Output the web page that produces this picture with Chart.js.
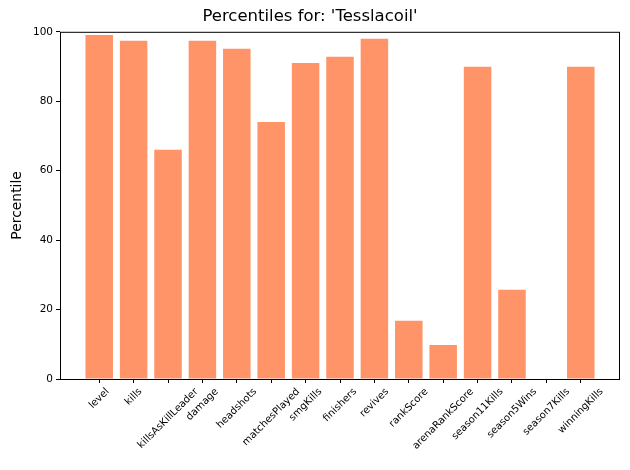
<!DOCTYPE html>
<html lang="en">
<head>
    <meta charset="UTF-8">
    <title>Percentiles for: 'Tesslacoil'</title>
    <script src="https://cdn.jsdelivr.net/npm/chart.js@4.4.1/dist/chart.umd.min.js"></script>
    <style>
        body {
            margin: 0;
            background-color: #fff;
        }
        #wrap {
            width: 630px;
            height: 470px;
        }
    </style>
</head>
<body>
    <div id="wrap"><canvas id="percentileChart"></canvas></div>

    <script>
        const categories = ['level', 'kills', 'killsAsKillLeader', 'damage', 'headshots', 'matchesPlayed',
            'smgKills', 'finishers', 'revives', 'rankScore', 'arenaRankScore', 'season11Kills',
            'season5Wins', 'season7Kills', 'winningKills'];
        const percentiles = [99.1, 97.4, 66, 97.4, 95.1, 74, 91, 92.8, 98, 16.8, 9.8, 89.9, 25.7, 0, 89.9];
        const yTicks = [0, 20, 40, 60, 80, 100];

        const fontFamily = "'DejaVu Sans', sans-serif";
        const barColor = '#ff9468';

        // matplotlib-style rotated labels, centred under each tick, plus the full axes frame
        const frameAndLabels = {
            id: 'frameAndLabels',
            afterDraw(chart) {
                const ctx = chart.ctx;
                const area = chart.chartArea;
                const xScale = chart.scales.x;
                const size = 10;
                ctx.save();
                ctx.strokeStyle = '#000';
                ctx.lineWidth = 1;
                ctx.strokeRect(area.left + 0.5, area.top + 0.5, area.right - area.left - 1, area.bottom - area.top);
                ctx.font = size + 'px ' + fontFamily;
                ctx.fillStyle = '#000';
                ctx.textAlign = 'center';
                ctx.textBaseline = 'middle';
                categories.forEach((label, i) => {
                    const w = ctx.measureText(label).width;
                    const x = xScale.getPixelForValue(i);
                    const y = area.bottom + 7 + (w + size * 1.15) * Math.SQRT1_2 / 2;
                    ctx.save();
                    ctx.translate(x, y);
                    ctx.rotate(-Math.PI / 4);
                    ctx.fillText(label, 0, 0);
                    ctx.restore();
                });
                ctx.restore();
            }
        };

        const ctx = document.getElementById('percentileChart').getContext('2d');
        new Chart(ctx, {
            type: 'bar',
            data: {
                datasets: [{
                    data: percentiles.map((v, i) => ({ x: i, y: v })),
                    backgroundColor: barColor,
                    borderWidth: 0,
                    barPercentage: 0.8,
                    categoryPercentage: 1
                }]
            },
            options: {
                responsive: true,
                maintainAspectRatio: false,
                animation: false,
                layout: { padding: { left: 0, right: 10, top: 0, bottom: 0 } },
                plugins: {
                    legend: { display: false },
                    tooltip: { enabled: false },
                    title: {
                        display: true,
                        text: "Percentiles for: 'Tesslacoil'",
                        color: '#000',
                        font: { family: fontFamily, size: 16.5, weight: 'normal' },
                        padding: { top: 7, bottom: 5 }
                    }
                },
                scales: {
                    x: {
                        type: 'linear',
                        offset: false,
                        min: -1.14,
                        max: 15.14,
                        afterBuildTicks: scale => {
                            scale.ticks = categories.map((_, i) => ({ value: i }));
                        },
                        afterFit: scale => { scale.height = 91; },
                        ticks: { display: false },
                        grid: {
                            offset: false,
                            drawOnChartArea: false,
                            drawTicks: true,
                            tickLength: 4,
                            color: '#000'
                        },
                        border: { display: false }
                    },
                    y: {
                        min: 0,
                        max: 100,
                        afterBuildTicks: scale => {
                            scale.ticks = yTicks.map(v => ({ value: v }));
                        },
                        afterFit: scale => { scale.width = 60; },
                        ticks: {
                            color: '#000',
                            padding: 3,
                            font: { family: fontFamily, size: 10.5 }
                        },
                        grid: {
                            drawOnChartArea: false,
                            drawTicks: true,
                            tickLength: 4,
                            color: '#000'
                        },
                        border: { display: false },
                        title: {
                            display: true,
                            text: 'Percentile',
                            color: '#000',
                            font: { family: fontFamily, size: 13.9 },
                            padding: { top: 9, bottom: 0 }
                        }
                    }
                }
            },
            plugins: [frameAndLabels]
        });
    </script>
</body>
</html>
